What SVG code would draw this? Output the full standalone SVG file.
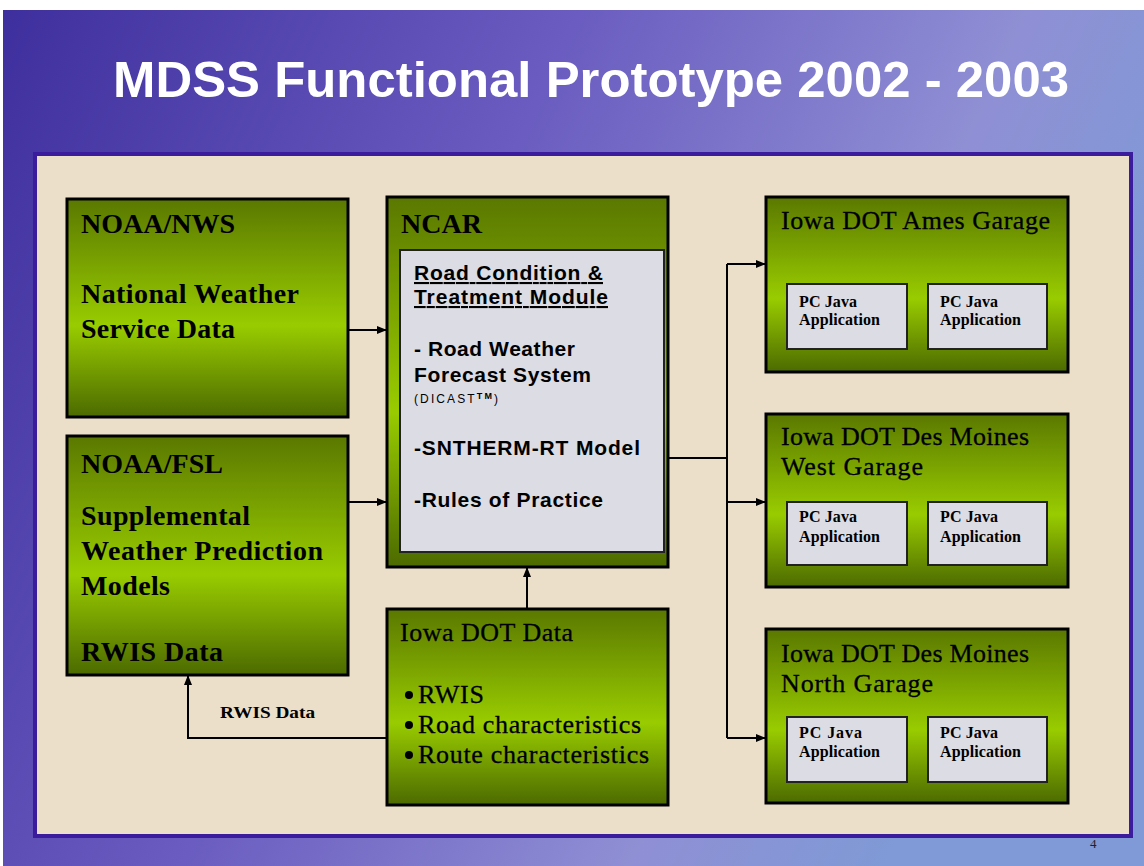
<svg xmlns="http://www.w3.org/2000/svg" width="1144" height="866" viewBox="0 0 1144 866">
<defs>
<linearGradient id="bg" x1="0" y1="0" x2="1" y2="0.35">
<stop offset="0" stop-color="#3e2f9e"/>
<stop offset="0.45" stop-color="#6a5cc0"/>
<stop offset="0.8" stop-color="#8f8fd4"/>
<stop offset="1" stop-color="#7f9ad6"/>
</linearGradient>
<linearGradient id="grn" x1="0" y1="0" x2="0" y2="1">
<stop offset="0" stop-color="#5a7800"/>
<stop offset="0.58" stop-color="#99cc00"/>
<stop offset="1" stop-color="#4c6a00"/>
</linearGradient>
<marker id="ah" markerWidth="10" markerHeight="8" refX="9" refY="4" orient="auto" markerUnits="userSpaceOnUse">
<path d="M0,0 L10,4 L0,8 Z" fill="#000"/>
</marker>
<style>
.box{fill:url(#grn);stroke:#000;stroke-width:3}
.inner{fill:#dcdce4;stroke:#222;stroke-width:2}
.hb{font-family:"Liberation Serif","Times New Roman",serif;font-weight:bold;font-size:28px;fill:#000}
.tr{font-family:"Liberation Serif","Times New Roman",serif;font-size:26px;fill:#000;stroke:#000;stroke-width:0.3}
.pc{font-family:"Liberation Serif","Times New Roman",serif;font-weight:bold;font-size:16px;fill:#000}
.ar{font-family:"Liberation Sans",Arial,sans-serif;font-weight:bold;font-size:21px;fill:#000}
.conn{fill:none;stroke:#000;stroke-width:2}
</style>
</defs>
<rect x="0" y="0" width="1144" height="866" fill="#ffffff"/>
<rect x="3" y="10" width="1141" height="856" fill="url(#bg)"/>
<text x="591" y="97" text-anchor="middle" font-family="Liberation Sans, Arial, sans-serif" font-weight="bold" font-size="50" fill="#ffffff" textLength="956" lengthAdjust="spacingAndGlyphs">MDSS Functional Prototype 2002 - 2003</text>
<rect x="35" y="154" width="1096" height="682" fill="#ebdfca" stroke="#3a1c9c" stroke-width="4"/>
<text x="1090" y="848" font-family="Liberation Serif, serif" font-size="13" fill="#222">4</text>

<g id="connectors">
<line class="conn" x1="348" y1="330" x2="386" y2="330" marker-end="url(#ah)"/>
<line class="conn" x1="348" y1="502" x2="386" y2="502" marker-end="url(#ah)"/>
<line class="conn" x1="527" y1="609" x2="527" y2="568" marker-end="url(#ah)"/>
<polyline class="conn" points="668,458 727,458"/>
<line class="conn" x1="727" y1="264" x2="727" y2="738"/>
<line class="conn" x1="727" y1="264" x2="765" y2="264" marker-end="url(#ah)"/>
<line class="conn" x1="727" y1="502" x2="765" y2="502" marker-end="url(#ah)"/>
<line class="conn" x1="727" y1="738" x2="765" y2="738" marker-end="url(#ah)"/>
<polyline class="conn" points="387,738 188,738 188,676" marker-end="url(#ah)"/>
<text x="220" y="718" font-family="Liberation Serif, serif" font-weight="bold" font-size="16" textLength="95" lengthAdjust="spacingAndGlyphs">RWIS Data</text>
</g>

<g id="noaa-nws">
<rect class="box" x="67" y="199" width="281" height="218"/>
<text class="hb" x="81" y="233" textLength="154">NOAA/NWS</text>
<text class="hb" x="81" y="303" textLength="218">National Weather</text>
<text class="hb" x="81" y="338" textLength="154">Service Data</text>
</g>

<g id="noaa-fsl">
<rect class="box" x="67" y="436" width="281" height="239"/>
<text class="hb" x="81" y="473" textLength="142">NOAA/FSL</text>
<text class="hb" x="81" y="525" textLength="169">Supplemental</text>
<text class="hb" x="81" y="560" textLength="242">Weather Prediction</text>
<text class="hb" x="81" y="595" textLength="89">Models</text>
<text class="hb" x="81" y="661" textLength="142">RWIS Data</text>
</g>

<g id="ncar">
<rect class="box" x="387" y="197" width="281" height="370"/>
<text class="hb" x="401" y="233" textLength="81">NCAR</text>
<rect class="inner" x="400" y="250" width="264" height="302"/>
<text class="ar" x="414" y="280" textLength="189" text-decoration="underline">Road Condition &amp;</text>
<text class="ar" x="414" y="304" textLength="194" text-decoration="underline">Treatment Module</text>
<text class="ar" x="414" y="356" textLength="161">- Road Weather</text>
<text class="ar" x="414" y="382" textLength="177">Forecast System</text>
<text x="414" y="403" font-family="Liberation Sans, Arial, sans-serif" font-size="12" textLength="84">(DICAST<tspan font-size="9" dy="-4" font-weight="bold">TM</tspan><tspan dy="4">)</tspan></text>
<text class="ar" x="414" y="455" textLength="226">-SNTHERM-RT Model</text>
<text class="ar" x="414" y="507" textLength="189">-Rules of Practice</text>
</g>

<g id="iowa-dot-data">
<rect class="box" x="387" y="609" width="281" height="196"/>
<text class="tr" x="400" y="641" textLength="173">Iowa DOT Data</text>
<circle cx="409" cy="695" r="4" fill="#000"/>
<text class="tr" x="418" y="703" textLength="66">RWIS</text>
<circle cx="409" cy="725" r="4" fill="#000"/>
<text class="tr" x="418" y="733" textLength="223">Road characteristics</text>
<circle cx="409" cy="755" r="4" fill="#000"/>
<text class="tr" x="418" y="763" textLength="231">Route characteristics</text>
</g>

<g id="ames-garage">
<rect class="box" x="766" y="197" width="302" height="175"/>
<text class="tr" x="781" y="229" textLength="269">Iowa DOT Ames Garage</text>
<rect class="inner" x="787" y="284" width="120" height="65"/>
<text class="pc" x="799" y="307" textLength="58">PC Java</text>
<text class="pc" x="799" y="325" textLength="81">Application</text>
<rect class="inner" x="928" y="284" width="119" height="65"/>
<text class="pc" x="940" y="307" textLength="58">PC Java</text>
<text class="pc" x="940" y="325" textLength="81">Application</text>
</g>

<g id="west-garage">
<rect class="box" x="766" y="414" width="302" height="173"/>
<text class="tr" x="781" y="445" textLength="248">Iowa DOT Des Moines</text>
<text class="tr" x="781" y="475" textLength="142">West Garage</text>
<rect class="inner" x="787" y="502" width="120" height="63"/>
<text class="pc" x="799" y="522" textLength="58">PC Java</text>
<text class="pc" x="799" y="542" textLength="81">Application</text>
<rect class="inner" x="928" y="502" width="119" height="63"/>
<text class="pc" x="940" y="522" textLength="58">PC Java</text>
<text class="pc" x="940" y="542" textLength="81">Application</text>
</g>

<g id="north-garage">
<rect class="box" x="766" y="629" width="302" height="174"/>
<text class="tr" x="781" y="662" textLength="248">Iowa DOT Des Moines</text>
<text class="tr" x="781" y="692" textLength="152">North Garage</text>
<rect class="inner" x="787" y="717" width="120" height="65"/>
<text class="pc" x="799" y="738" textLength="63">PC  Java</text>
<text class="pc" x="799" y="757" textLength="81">Application</text>
<rect class="inner" x="928" y="717" width="119" height="65"/>
<text class="pc" x="940" y="738" textLength="58">PC Java</text>
<text class="pc" x="940" y="757" textLength="81">Application</text>
</g>
</svg>
